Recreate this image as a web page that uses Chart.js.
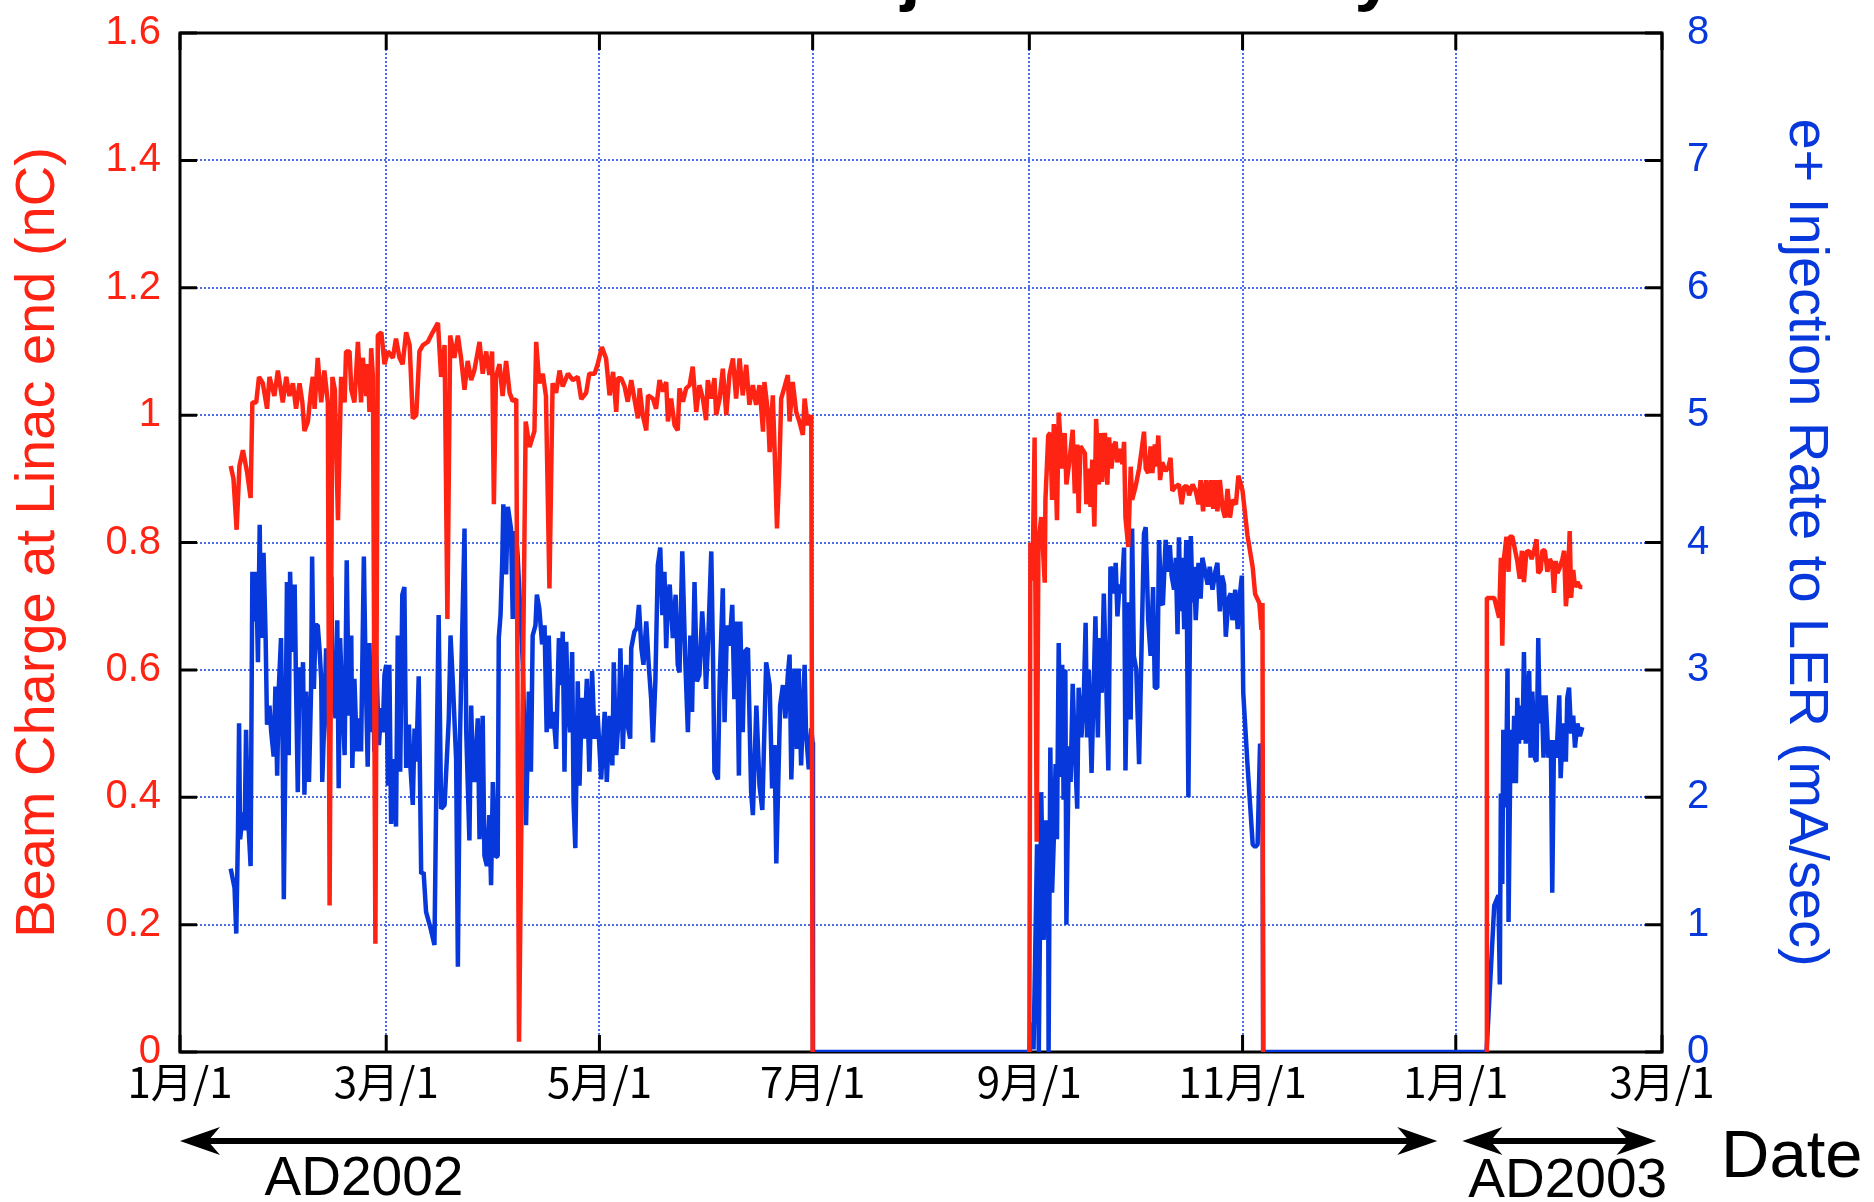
<!DOCTYPE html>
<html>
<head>
<meta charset="utf-8">
<script src="https://cdn.jsdelivr.net/npm/chart.js@4.4.1/dist/chart.umd.min.js"></script>
<style>
  html, body { margin: 0; padding: 0; background: #fff; }
  #wrap { width: 1874px; height: 1202px; }
</style>
</head>
<body>
<div id="wrap"><canvas id="chart" width="1874" height="1202"></canvas></div>
<script>
// x axis: days counted from 2002-01-01
const monthTickDays = [0, 59, 120, 181, 243, 304, 365, 424];
const monthLabels = ["1月/1", "3月/1", "5月/1", "7月/1", "9月/1", "11月/1", "1月/1", "3月/1"];
const chargeTicks = [0, 0.2, 0.4, 0.6, 0.8, 1, 1.2, 1.4, 1.6];
const chargeTickLabels = ["0", "0.2", "0.4", "0.6", "0.8", "1", "1.2", "1.4", "1.6"];
const rateTicks = [0, 1, 2, 3, 4, 5, 6, 7, 8];
const rateTickLabels = ["0", "1", "2", "3", "4", "5", "6", "7", "8"];

// year spans under the axis (days)
const ad2002Span = [0, 359.7];
const ad2003Span = [366.9, 422.4];

// beam charge at linac end (nC), [day, value]
const chargeRun1 = [
  [14.5, 0.92], [15.3, 0.90], [16.2, 0.82], [17.0, 0.92], [18.0, 0.945], [19.2, 0.91], [20.2, 0.87], [20.7, 1.02],
  [21.8, 1.02], [22.6, 1.06], [23.7, 1.05], [24.9, 1.01], [25.6, 1.06], [27.0, 1.03], [28.0, 1.07], [29.4, 1.02],
  [30.4, 1.06], [31.3, 1.03], [32.3, 1.05], [33.2, 1.01], [34.2, 1.05], [35.0, 1.02], [35.6, 0.975], [36.6, 0.99],
  [37.5, 1.04], [38.0, 1.06], [38.5, 1.01], [39.4, 1.09], [40.4, 1.02], [41.3, 1.07], [42.3, 1.02], [42.8, 0.23],
  [43.6, 1.06], [44.3, 1.04], [45.2, 0.835], [46.1, 1.06], [47.1, 1.02], [47.5, 1.10], [48.5, 1.10], [49.0, 1.04],
  [49.9, 1.02], [50.9, 1.115], [51.8, 1.02], [52.3, 1.09], [53.3, 1.03], [53.7, 1.08], [54.2, 1.005], [54.7, 1.105],
  [55.2, 1.06], [55.9, 0.17], [56.6, 1.125], [57.6, 1.13], [58.5, 1.08], [59.5, 1.10], [60.9, 1.09], [61.8, 1.12],
  [62.8, 1.09], [63.7, 1.08], [64.7, 1.13], [65.7, 1.11], [66.6, 0.995], [67.6, 1.0], [68.5, 1.10], [69.5, 1.11],
  [70.9, 1.115], [72.3, 1.13], [73.8, 1.145], [74.7, 1.06], [75.7, 1.11], [76.5, 0.68], [77.3, 1.125], [78.5, 1.09],
  [79.5, 1.125], [80.4, 1.09], [81.4, 1.04], [82.3, 1.085], [83.3, 1.055], [84.2, 1.07], [85.7, 1.115], [86.6, 1.065],
  [87.6, 1.10], [88.5, 1.063], [89.3, 1.10], [89.8, 0.86], [90.4, 1.06], [91.4, 1.08], [92.3, 1.03], [93.3, 1.085],
  [94.3, 1.035], [95.2, 1.022], [96.2, 1.025], [97.0, 0.016], [98.9, 0.99], [100.0, 0.95], [101.4, 0.975], [101.9, 1.115],
  [102.8, 1.05], [103.8, 1.065], [104.7, 1.03], [105.7, 0.728], [106.6, 1.05], [107.6, 1.035], [108.6, 1.07], [109.5, 1.045],
  [111.0, 1.065], [112.4, 1.055], [113.8, 1.06], [114.8, 1.025], [116.2, 1.035], [117.1, 1.065], [118.6, 1.065], [119.5, 1.08],
  [120.7, 1.107], [121.9, 1.089], [122.9, 1.031], [123.9, 1.068], [124.8, 1.005], [125.3, 1.058], [126.2, 1.058], [127.2, 1.045],
  [128.1, 1.021], [129.1, 1.055], [130.0, 1.026], [131.0, 0.995], [131.5, 1.042], [132.4, 1.0], [133.4, 0.976], [133.9, 1.031],
  [135.3, 1.026], [136.2, 1.01], [137.2, 1.055], [138.2, 1.037], [139.1, 1.052], [139.6, 0.99], [140.5, 1.026], [141.5, 0.984],
  [142.4, 0.976], [142.9, 1.042], [143.9, 1.021], [144.8, 1.042], [145.8, 1.047], [146.7, 1.076], [147.7, 1.005], [148.6, 1.047],
  [149.6, 1.026], [150.5, 0.992], [151.0, 1.055], [152.0, 1.026], [152.9, 1.058], [153.4, 1.0], [154.4, 1.026], [155.3, 1.073],
  [156.3, 1.0], [157.2, 1.063], [158.2, 1.089], [159.1, 1.026], [160.1, 1.089], [161.0, 1.031], [162.0, 1.079], [162.9, 1.016],
  [163.9, 1.047], [164.8, 1.016], [165.8, 1.047], [166.8, 0.974], [167.2, 1.052], [168.2, 1.005], [168.7, 0.942], [169.6, 1.031],
  [170.1, 0.948], [170.8, 0.822], [171.5, 0.921], [172.0, 1.026], [173.0, 1.045], [173.9, 1.063], [174.4, 0.99], [175.3, 1.052],
  [176.3, 1.005], [177.2, 0.99], [178.2, 0.969], [178.7, 1.026], [179.6, 0.984], [180.6, 1.0], [181.0, 0]
];
const chargeRun2 = [
  [243.0, 0], [243.3, 0.80], [243.9, 0.74], [244.5, 0.965], [245.1, 0.33], [245.6, 0.80], [246.4, 0.84], [247.4, 0.737],
  [247.6, 0.867], [248.4, 0.968], [249.0, 0.972], [249.5, 0.867], [250.0, 0.986], [250.5, 0.916], [250.9, 0.835], [251.4, 1.004],
  [252.4, 0.916], [253.1, 0.972], [253.6, 0.891], [254.5, 0.93], [255.4, 0.977], [256.0, 0.877], [256.7, 0.954], [257.1, 0.846],
  [257.6, 0.951], [258.1, 0.947], [258.9, 0.94], [259.3, 0.86], [259.8, 0.916], [260.5, 0.856], [261.0, 0.93], [261.6, 0.825],
  [262.1, 0.994], [262.9, 0.891], [263.4, 0.972], [263.8, 0.895], [264.6, 0.972], [265.3, 0.891], [265.8, 0.965], [266.5, 0.916],
  [267.0, 0.951], [267.7, 0.958], [268.1, 0.926], [268.8, 0.947], [269.6, 0.923], [270.1, 0.958], [270.5, 0.839], [271.3, 0.793],
  [272.0, 0.919], [272.4, 0.867], [273.4, 0.888], [274.4, 0.916], [275.1, 0.944], [275.8, 0.974], [276.3, 0.916], [277.0, 0.909],
  [277.7, 0.951], [278.2, 0.909], [278.9, 0.954], [279.3, 0.919], [279.9, 0.968], [280.4, 0.898], [281.0, 0.926], [282.0, 0.912],
  [282.8, 0.919], [283.4, 0.933], [283.9, 0.881], [284.9, 0.888], [285.8, 0.891], [286.6, 0.86], [287.3, 0.888], [288.2, 0.888],
  [288.7, 0.874], [289.7, 0.891], [290.6, 0.881], [291.4, 0.86], [292.0, 0.898], [292.7, 0.849], [293.5, 0.898], [294.2, 0.856],
  [294.9, 0.898], [295.6, 0.853], [296.2, 0.898], [296.8, 0.849], [297.5, 0.898], [298.3, 0.853], [299.0, 0.839], [299.7, 0.884],
  [300.4, 0.839], [301.1, 0.867], [302.1, 0.86], [302.8, 0.905], [304.0, 0.881], [305.4, 0.811], [306.9, 0.761], [307.6, 0.719],
  [308.8, 0.705], [309.4, 0.663], [309.7, 0.705], [309.9, 0]
];
const chargeRun3 = [
  [373.8, 0], [373.9, 0.713], [376.0, 0.713], [377.4, 0.682], [377.9, 0.776], [378.3, 0.638], [378.8, 0.776], [379.5, 0.809],
  [380.1, 0.754], [380.4, 0.809], [381.2, 0.809], [382.0, 0.787], [382.6, 0.771], [383.3, 0.743], [383.9, 0.787], [384.5, 0.738],
  [385.2, 0.785], [386.0, 0.787], [386.7, 0.774], [387.4, 0.787], [388.1, 0.805], [388.6, 0.752], [389.3, 0.757], [389.8, 0.788],
  [390.5, 0.787], [391.2, 0.754], [391.9, 0.774], [392.6, 0.766], [393.1, 0.721], [393.6, 0.771], [394.1, 0.752], [394.7, 0.760],
  [395.5, 0.774], [396.0, 0.787], [396.5, 0.70], [397.0, 0.732], [397.6, 0.818], [398.0, 0.713], [398.6, 0.757], [399.1, 0.730],
  [399.8, 0.738], [400.5, 0.730], [401.2, 0.730]
];

// e+ injection rate to LER (mA/sec), [day, value]
const rateRun1 = [
  [14.5, 1.44], [15.6, 1.29], [16.1, 0.93], [16.6, 1.75], [16.9, 2.58], [17.2, 1.67], [18.0, 1.88], [18.5, 1.74],
  [18.9, 2.53], [19.4, 1.88], [20.2, 1.46], [20.7, 3.77], [21.3, 3.38], [21.8, 3.77], [22.3, 3.06], [22.8, 4.14],
  [23.2, 3.25], [23.9, 3.92], [24.5, 3.25], [24.9, 2.57], [25.6, 2.72], [26.1, 2.51], [26.8, 2.32], [27.3, 2.87],
  [27.8, 2.17], [28.3, 2.88], [28.9, 3.25], [29.4, 2.33], [29.7, 1.20], [30.2, 2.46], [30.6, 3.69], [31.1, 2.33],
  [31.5, 3.77], [32.1, 3.14], [32.8, 3.67], [33.2, 2.88], [33.7, 2.04], [34.2, 3.02], [34.7, 2.78], [35.2, 3.06],
  [35.6, 2.02], [36.1, 2.83], [36.9, 2.12], [37.5, 2.84], [37.8, 3.89], [38.3, 2.85], [38.8, 3.35], [39.4, 3.35],
  [39.9, 3.17], [40.4, 2.93], [40.7, 2.12], [41.3, 2.62], [41.8, 3.17], [42.3, 2.75], [42.8, 2.36], [43.3, 3.73],
  [43.7, 2.78], [44.5, 2.62], [45.0, 3.39], [45.4, 2.07], [45.8, 3.25], [46.4, 2.78], [47.1, 2.33], [47.7, 3.86],
  [48.3, 2.64], [49.0, 3.27], [49.3, 2.23], [49.9, 2.93], [50.6, 2.36], [51.2, 2.62], [51.8, 2.36], [52.6, 3.89],
  [53.1, 2.99], [53.7, 2.24], [54.2, 3.21], [54.7, 2.51], [55.2, 3.06], [55.6, 2.36], [56.1, 3.12], [56.9, 2.41],
  [57.6, 2.70], [58.0, 2.51], [58.5, 2.96], [59.0, 3.04], [59.5, 2.09], [59.9, 3.04], [60.4, 1.79], [61.1, 2.30],
  [61.8, 1.77], [62.3, 3.27], [63.0, 2.20], [63.6, 3.59], [64.2, 3.65], [64.7, 2.23], [65.5, 2.57], [65.9, 2.25],
  [66.6, 1.94], [67.1, 2.54], [67.6, 2.28], [68.3, 2.95], [69.0, 1.40], [69.7, 1.41], [70.4, 1.10], [71.7, 0.97],
  [72.8, 0.84], [73.5, 2.46], [74.0, 3.43], [74.7, 1.91], [75.7, 1.94], [76.9, 2.62], [77.4, 3.27], [78.1, 2.88],
  [78.5, 2.62], [79.0, 2.30], [79.5, 0.67], [80.1, 2.46], [80.7, 3.25], [81.4, 4.11], [81.9, 2.51], [82.8, 1.66],
  [83.3, 2.72], [83.8, 2.20], [84.2, 2.12], [85.2, 2.62], [85.7, 1.67], [86.6, 2.64], [87.1, 1.54], [87.8, 1.46],
  [88.5, 1.86], [89.0, 1.31], [89.5, 2.12], [90.3, 1.53], [90.9, 1.54], [91.2, 3.25], [91.7, 3.43], [92.2, 3.86],
  [92.5, 4.30], [93.3, 3.75], [93.8, 4.28], [94.7, 4.11], [95.2, 3.40], [96.0, 4.09], [96.6, 3.90], [97.1, 3.61],
  [98.1, 3.04], [99.0, 1.78], [99.8, 2.83], [100.4, 2.20], [100.9, 3.27], [101.7, 3.35], [102.1, 3.59], [102.8, 3.48],
  [103.6, 3.20], [104.3, 3.35], [104.9, 2.51], [105.5, 3.27], [106.2, 2.54], [106.8, 2.67], [107.6, 2.38], [108.4, 3.25],
  [109.0, 2.88], [109.5, 3.30], [110.0, 2.20], [110.5, 3.22], [110.9, 2.78], [111.6, 2.51], [112.2, 3.14], [112.6, 1.96],
  [113.1, 1.60], [113.8, 2.91], [114.3, 2.09], [115.0, 2.78], [115.7, 2.46], [116.4, 2.93], [117.1, 2.20], [117.9, 2.99],
  [118.6, 2.46], [119.5, 2.64], [120.5, 2.14], [121.5, 2.67], [122.1, 2.12], [122.9, 2.64], [123.7, 2.25], [124.1, 3.06],
  [124.8, 2.33], [125.6, 2.67], [126.0, 3.17], [126.7, 2.38], [127.2, 2.77], [127.7, 3.04], [128.1, 2.56], [128.8, 2.46],
  [129.1, 3.17], [130.0, 3.30], [130.7, 3.33], [131.3, 3.51], [132.0, 3.17], [132.6, 3.04], [133.4, 3.38], [134.1, 3.04],
  [134.8, 2.77], [135.3, 2.43], [136.0, 2.91], [136.7, 3.82], [137.4, 3.96], [138.0, 3.43], [138.6, 3.77], [139.1, 3.17],
  [139.6, 3.56], [140.1, 3.67], [141.0, 3.25], [141.8, 3.59], [142.4, 3.04], [142.9, 2.98], [143.7, 3.93], [144.6, 3.04],
  [145.3, 2.51], [146.0, 3.27], [146.5, 2.67], [147.2, 3.69], [147.9, 2.91], [148.6, 2.96], [149.4, 3.46], [150.1, 3.14],
  [150.5, 2.85], [151.2, 3.30], [152.0, 3.93], [152.5, 3.09], [152.9, 2.20], [153.9, 2.14], [154.4, 2.91], [155.3, 3.64],
  [155.8, 2.59], [156.5, 3.35], [157.2, 3.19], [158.0, 3.51], [158.6, 2.77], [159.3, 3.38], [159.9, 2.17], [160.3, 3.38],
  [161.0, 2.51], [161.5, 3.14], [162.5, 3.17], [163.4, 2.04], [163.9, 1.86], [164.9, 2.72], [165.8, 2.09], [166.6, 1.90],
  [167.7, 3.06], [168.7, 2.88], [169.4, 2.07], [170.1, 2.41], [170.6, 1.48], [171.7, 2.72], [172.5, 2.88], [173.2, 2.62],
  [173.9, 2.96], [174.4, 3.12], [174.9, 2.14], [175.8, 3.01], [176.5, 2.38], [177.0, 3.01], [177.7, 2.25], [178.7, 3.04],
  [179.1, 2.51], [179.9, 2.22], [180.6, 2.54], [181.0, 2.43], [181.1, 0]
];
const rateRun2 = [
  [243.0, 0], [243.8, 0.23], [244.2, 0.02], [245.2, 1.63], [245.7, 0], [246.4, 2.04], [247.1, 0.88], [247.6, 1.82],
  [248.4, 1.25], [248.5, 0], [249.0, 2.39], [249.5, 1.25], [250.0, 1.67], [250.5, 2.26], [250.9, 1.67], [251.4, 3.21],
  [251.9, 2.16], [252.4, 3.04], [252.8, 1.98], [253.3, 3.00], [253.6, 1.0], [254.3, 2.40], [254.8, 2.12], [255.4, 2.89],
  [256.0, 2.40], [256.7, 1.91], [257.1, 2.86], [257.9, 2.47], [258.6, 2.82], [259.1, 3.37], [259.5, 2.47], [260.0, 3.00],
  [260.8, 2.19], [261.3, 2.75], [261.9, 3.42], [262.6, 2.47], [263.1, 3.25], [263.7, 2.82], [264.3, 3.60], [265.0, 2.89],
  [265.6, 2.21], [266.2, 3.81], [266.7, 3.77], [267.2, 3.60], [267.7, 3.84], [268.2, 3.42], [268.8, 3.67], [269.4, 3.60],
  [270.1, 3.96], [270.5, 2.21], [271.0, 3.11], [271.5, 3.53], [272.0, 2.61], [272.4, 4.11], [272.9, 3.11], [273.6, 3.00],
  [274.4, 2.26], [275.1, 3.18], [275.8, 4.07], [276.3, 4.12], [277.0, 3.39], [277.7, 3.11], [278.4, 3.65], [278.9, 2.86],
  [279.6, 2.86], [280.1, 4.02], [280.7, 3.53], [281.2, 3.51], [282.0, 4.02], [282.5, 3.77], [283.2, 3.98], [283.7, 3.74],
  [284.4, 3.63], [284.9, 3.88], [285.4, 3.28], [285.8, 4.04], [286.3, 3.46], [286.8, 3.88], [287.3, 3.32], [287.9, 4.02],
  [288.5, 2.0], [289.2, 4.05], [289.7, 3.53], [290.1, 3.81], [290.6, 3.39], [291.4, 3.84], [292.0, 3.56], [292.5, 3.88],
  [293.3, 3.77], [294.0, 3.67], [294.6, 3.81], [295.4, 3.63], [296.2, 3.77], [296.8, 3.84], [297.5, 3.46], [298.1, 3.74],
  [298.7, 3.67], [299.2, 3.26], [300.0, 3.56], [300.6, 3.60], [301.1, 3.39], [301.9, 3.63], [302.6, 3.32], [303.0, 3.53],
  [303.8, 3.74], [304.2, 2.82], [305.4, 2.26], [306.9, 1.63], [307.6, 1.61], [308.3, 1.63], [309.0, 2.42], [309.7, 2.37],
  [309.9, 0]
];
const rateRun3 = [
  [373.8, 0], [376.0, 1.15], [377.2, 1.23], [377.6, 0.53], [377.9, 2.03], [378.3, 1.32], [378.6, 2.53], [379.3, 1.92],
  [379.8, 3.01], [380.1, 1.02], [380.7, 2.53], [381.2, 2.11], [381.7, 2.64], [382.2, 2.11], [382.6, 2.78], [383.1, 2.42],
  [383.6, 2.72], [384.1, 2.45], [384.5, 3.14], [385.0, 2.42], [385.5, 2.70], [386.0, 2.99], [386.4, 2.31], [386.9, 2.83],
  [387.7, 2.30], [388.1, 2.28], [388.6, 3.25], [389.0, 2.58], [389.6, 2.80], [390.1, 2.31], [390.7, 2.80], [391.5, 2.31],
  [392.2, 2.45], [392.6, 1.25], [393.1, 2.45], [393.8, 2.31], [394.6, 2.80], [395.0, 2.15], [395.7, 2.58], [396.5, 2.28],
  [396.9, 2.78], [397.4, 2.86], [398.0, 2.50], [398.6, 2.64], [399.1, 2.39], [399.8, 2.58], [400.5, 2.48], [401.2, 2.55]
];

const RED = "#ff2313";
const BLUE = "#0638dc";
const GRID = "#4a6ee8";

function toPoints(run) {
  return run.map(([d, v]) => ({ x: d, y: v }));
}

// charge has no line during the shutdowns, the rate sits at zero there
const chargeData = [
  ...toPoints(chargeRun1), { x: 212, y: null },
  ...toPoints(chargeRun2), { x: 340, y: null },
  ...toPoints(chargeRun3),
];
const rateData = [...toPoints(rateRun1), ...toPoints(rateRun2), ...toPoints(rateRun3)];

const frame = {
  id: "frame",
  beforeDatasetsDraw(chart) {
    const { ctx, chartArea: a, scales } = chart;
    ctx.save();
    ctx.setLineDash([]);
    ctx.strokeStyle = "#000";
    ctx.lineWidth = 3;
    ctx.beginPath();
    scales.y.ticks.forEach((t) => {
      const py = scales.y.getPixelForValue(t.value);
      ctx.moveTo(a.left, py);
      ctx.lineTo(a.left + 17, py);
      ctx.moveTo(a.right, py);
      ctx.lineTo(a.right - 17, py);
    });
    scales.x.ticks.forEach((t) => {
      const px = scales.x.getPixelForValue(t.value);
      ctx.moveTo(px, a.bottom);
      ctx.lineTo(px, a.bottom - 17);
      ctx.moveTo(px, a.top);
      ctx.lineTo(px, a.top + 17);
    });
    ctx.stroke();
    ctx.strokeRect(a.left, a.top, a.right - a.left, a.bottom - a.top);
    ctx.restore();
  },
};

function arrowHead(ctx, tipX, y, dir) {
  ctx.beginPath();
  ctx.moveTo(tipX, y);
  ctx.lineTo(tipX + dir * 40, y - 14);
  ctx.lineTo(tipX + dir * 28, y);
  ctx.lineTo(tipX + dir * 40, y + 14);
  ctx.closePath();
  ctx.fill();
}

function spanArrow(ctx, x1, x2, y) {
  ctx.beginPath();
  ctx.moveTo(x1 + 20, y);
  ctx.lineTo(x2 - 20, y);
  ctx.stroke();
  arrowHead(ctx, x1, y, 1);
  arrowHead(ctx, x2, y, -1);
}

const notes = {
  id: "notes",
  afterDraw(chart) {
    const { ctx } = chart;
    const x = chart.scales.x;
    ctx.save();
    ctx.setLineDash([]);
    ctx.fillStyle = "#000";
    ctx.strokeStyle = "#000";
    ctx.lineWidth = 6;

    // title, only its descenders reach into the picture
    ctx.font = 'bold 71px "Liberation Sans", Arial, sans-serif';
    ctx.textAlign = "left";
    ctx.textBaseline = "alphabetic";
    ctx.fillText("Positron Injection History", 530, -3);

    const arrowY = 1141;
    spanArrow(ctx, x.getPixelForValue(ad2002Span[0]), x.getPixelForValue(ad2002Span[1]), arrowY);
    spanArrow(ctx, x.getPixelForValue(ad2003Span[0]), x.getPixelForValue(ad2003Span[1]), arrowY);

    ctx.font = '55px "Liberation Sans", Arial, sans-serif';
    ctx.fillText("AD2002", x.getPixelForValue(24.2), 1195);
    ctx.fillText("AD2003", x.getPixelForValue(368.6), 1197);
    ctx.font = '67px "Liberation Sans", Arial, sans-serif';
    ctx.fillText("Date", 1721, 1177);
    ctx.restore();
  },
};

const tickFont = { family: '"Liberation Sans", Arial, sans-serif', size: 40 };
const titleFont = { family: '"Liberation Sans", Arial, sans-serif', size: 56 };

// fixed axis boxes so the plot frame lands where the original has it
function fitSide(width) {
  return (s) => {
    s.width = width;
    s.paddingTop = 0;
    s.paddingBottom = 0;
  };
}

new Chart(document.getElementById("chart"), {
  type: "line",
  data: {
    datasets: [
      {
        label: "Beam Charge",
        data: chargeData,
        yAxisID: "y",
        borderColor: RED,
        borderWidth: 4.5,
        borderJoinStyle: "bevel",
        pointRadius: 0,
        spanGaps: false,
        tension: 0,
      },
      {
        label: "Injection Rate",
        data: rateData,
        yAxisID: "y1",
        borderColor: BLUE,
        borderWidth: 4.5,
        borderJoinStyle: "bevel",
        pointRadius: 0,
        tension: 0,
      },
    ],
  },
  options: {
    responsive: false,
    animation: false,
    devicePixelRatio: 1,
    layout: { padding: { top: 33, left: 0, right: 0, bottom: 0 } },
    plugins: { legend: { display: false }, tooltip: { enabled: false } },
    scales: {
      x: {
        type: "linear",
        min: 0,
        max: 424,
        afterBuildTicks: (s) => { s.ticks = monthTickDays.map((v) => ({ value: v })); },
        afterFit: (s) => { s.height = 150; },
        grid: { color: GRID, lineWidth: 2, drawTicks: false },
        border: { display: false, dash: [2, 2] },
        ticks: {
          autoSkip: false,
          maxRotation: 0,
          padding: 5,
          color: "#000",
          font: { family: '"Noto Sans CJK JP", sans-serif', size: 42 },
          callback: (v, i) => monthLabels[i],
        },
      },
      y: {
        position: "left",
        min: 0,
        max: 1.6,
        afterBuildTicks: (s) => { s.ticks = chargeTicks.map((v) => ({ value: v })); },
        afterFit: fitSide(180),
        grid: { color: GRID, lineWidth: 2, drawTicks: false },
        border: { display: false, dash: [2, 2] },
        ticks: { padding: 19, color: RED, font: tickFont, callback: (v, i) => chargeTickLabels[i] },
        title: { display: true, text: "Beam Charge at Linac end (nC)", color: RED, font: titleFont, padding: { top: 5, bottom: 0 } },
      },
      y1: {
        position: "right",
        min: 0,
        max: 8,
        afterBuildTicks: (s) => { s.ticks = rateTicks.map((v) => ({ value: v })); },
        afterFit: fitSide(212),
        grid: { display: false, drawTicks: false },
        border: { display: false },
        ticks: { padding: 25, color: BLUE, font: tickFont, callback: (v, i) => rateTickLabels[i] },
        title: { display: true, text: "e+ Injection Rate to LER (mA/sec)", color: BLUE, font: titleFont, padding: { top: 35, bottom: 0 } },
      },
    },
  },
  plugins: [frame, notes],
});
</script>
</body>
</html>
